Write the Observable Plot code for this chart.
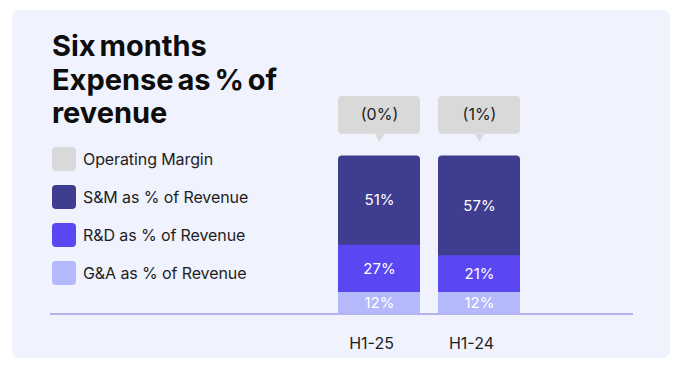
<!DOCTYPE html>
<html>
<head>
<meta charset="utf-8">
<script src="https://cdn.jsdelivr.net/npm/d3@7"></script>
<script src="https://cdn.jsdelivr.net/npm/@observablehq/plot@0.6"></script>
<style>
  html, body { margin: 0; padding: 0; background: #ffffff; width: 695px; height: 376px; overflow: hidden; font-family: "Inter", "Noto Sans", sans-serif; }
  #card { position: absolute; left: 12px; top: 10px; width: 658px; height: 348px; background: #f0f2fd; border-radius: 8px; }
  #chart { position: absolute; left: 0; top: 0; }
  #title { position: absolute; left: 52px; top: 29px; font-size: 29px; font-weight: 700; line-height: 33.5px; color: #0d0d0d; letter-spacing: 0px; word-spacing: -3px; }
  #legend { position: absolute; left: 52px; top: 147px; }
  .row { display: flex; align-items: center; height: 24px; margin-bottom: 14px; }
  .sw { width: 24px; height: 24px; border-radius: 4px; margin-right: 7px; }
  .lab { font-size: 16px; color: #1e1e1e; letter-spacing: -0.1px; }
</style>
</head>
<body>
<div id="card"></div>
<div id="chart"></div>
<div id="title">Six months<br>Expense as % of<br>revenue</div>
<div id="legend"></div>
<script>
// ---- data ----
const periods = ["H1-25", "H1-24"];
const gaPct = [12, 12];
const rdPct = [27, 21];
const smPct = [51, 57];
const operatingMarginLabels = ["(0%)", "(1%)"];
const seriesNames = ["Operating Margin", "S&M as % of Revenue", "R&D as % of Revenue", "G&A as % of Revenue"];
const seriesColors = ["#d9d9d9", "#3f3d8f", "#5b47f2", "#b3b9fb"];

// ---- derived table ----
const segments = [];
periods.forEach((p, i) => {
  const vals = [["G&A as % of Revenue", gaPct[i]], ["R&D as % of Revenue", rdPct[i]], ["S&M as % of Revenue", smPct[i]]];
  let acc = 0;
  for (const [s, v] of vals) {
    segments.push({period: p, series: s, y1: acc, y2: acc + v, value: v});
    acc += v;
  }
});
const totals = periods.map((p, i) => ({period: p, total: gaPct[i] + rdPct[i] + smPct[i]}));
const lower = segments.filter(d => d.series !== "S&M as % of Revenue");
const callouts = periods.map((p, i) => ({period: p, label: operatingMarginLabels[i]}));

const yMax = 124;           // top of the value domain (callout level)
const calloutBase = 102.5;  // callout bottom, in value units

const colorOf = Object.fromEntries(seriesNames.map((s, i) => [s, seriesColors[i]]));

const chart = Plot.plot({
  width: 695,
  height: 376,
  marginLeft: 50,
  marginRight: 62,
  marginTop: 96,
  marginBottom: 63,
  style: {background: "transparent", fontFamily: "Inter, 'Noto Sans', sans-serif", overflow: "visible"},
  x: {domain: periods, range: [338, 520], paddingInner: 0.18, paddingOuter: 0, axis: null, label: null},
  y: {domain: [0, yMax], range: [313, 96], axis: null},
  color: {domain: seriesNames, range: seriesColors},
  marks: [
    // callouts
    Plot.barY(callouts, {x: "period", y1: calloutBase, y2: yMax, fill: colorOf["Operating Margin"], rx: 4}),
    Plot.dot(callouts, {x: "period", y: calloutBase, dy: 2.6, symbol: "triangle", rotate: 180, r: 3.4, fill: colorOf["Operating Margin"]}),
    Plot.text(callouts, {x: "period", y: (calloutBase + yMax) / 2, text: "label", fill: "#1e1e1e", fontSize: 16}),
    // stacked bars: full bar in S&M colour with rounded top, then lower segments
    Plot.barY(totals, {x: "period", y1: 0, y2: "total", fill: colorOf["S&M as % of Revenue"], rx: 4}),
    Plot.barY(lower, {x: "period", y1: "y1", y2: "y2", fill: "series"}),
    Plot.text(segments, {x: "period", y: d => (d.y1 + d.y2) / 2, text: d => d.value + "%", fill: "white", fontSize: 15}),
    // baseline
    Plot.ruleY([0], {stroke: "#b5b3ef", strokeWidth: 2, dy: 0.5}),
    // x labels
    Plot.axisX({tickSize: 0, tickPadding: 24, fontSize: 16, color: "#1e1e1e", dx: -8, label: null})
  ]
});
document.getElementById("chart").appendChild(chart);

// legend
const legend = document.getElementById("legend");
seriesNames.forEach((s, i) => {
  const row = document.createElement("div");
  row.className = "row";
  const sw = document.createElement("div");
  sw.className = "sw";
  sw.style.background = seriesColors[i];
  const lab = document.createElement("div");
  lab.className = "lab";
  lab.textContent = s;
  row.appendChild(sw);
  row.appendChild(lab);
  legend.appendChild(row);
});
</script>
</body>
</html>
